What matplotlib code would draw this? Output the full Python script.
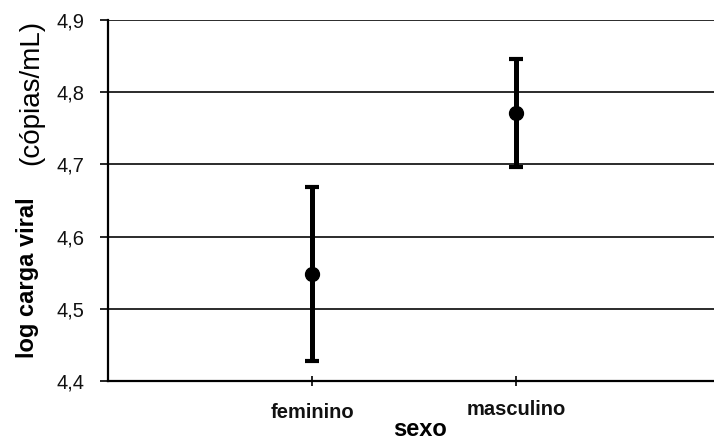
import matplotlib.pyplot as plt

# Mean log viral load by sex, with error bars
sexo = ['feminino', 'masculino']
media = [4.548, 4.771]
erro_sup = [0.121, 0.075]
erro_inf = [0.120, 0.074]
yticks = [4.4, 4.5, 4.6, 4.7, 4.8, 4.9]
ytick_labels = ['4,4', '4,5', '4,6', '4,7', '4,8', '4,9']

plt.rcParams['font.family'] = ['Liberation Sans', 'DejaVu Sans']

fig = plt.figure(figsize=(7.14, 4.4), dpi=100)
ax = fig.add_axes([0.1513, 0.134, 0.8487, 0.8205])

x = [1, 2]
ax.errorbar(x, media, yerr=[erro_inf, erro_sup], fmt='o', color='black',
            ecolor='black', markersize=10, elinewidth=3.6, capsize=4.8,
            capthick=3.0, zorder=3)

ax.set_ylim(4.4, 4.9)
ax.set_xlim(0, 2.97)
ax.set_yticks(yticks)
ax.set_yticklabels(ytick_labels, fontsize=14.5, color='#111111')
ax.set_xticks(x)
ax.set_xticklabels(sexo, fontsize=14.5, fontweight='bold', color='#111111')
ax.get_xticklabels()[1].set_y(0.006)

for y in yticks[1:]:
    ax.axhline(y, color='#1a1a1a', linewidth=1.3, zorder=1)

ax.spines['top'].set_visible(False)
ax.spines['right'].set_visible(False)
ax.spines['left'].set_linewidth(1.6)
ax.spines['bottom'].set_linewidth(1.6)
ax.tick_params(axis='y', direction='out', length=6, width=1.2, pad=11)
ax.tick_params(axis='x', direction='inout', length=7, width=1.2, pad=12)

fig.text(0.588, 0.023, 'sexo', fontsize=17, fontweight='bold',
         ha='center', va='center')

fig.text(0.039, 0.37, 'log carga viral', rotation=90, fontsize=17,
         fontweight='bold', ha='center', va='center')
fig.text(0.044, 0.79, '(cópias/mL)', rotation=90, fontsize=20,
         ha='center', va='center')

plt.savefig('out.png', dpi=100)
